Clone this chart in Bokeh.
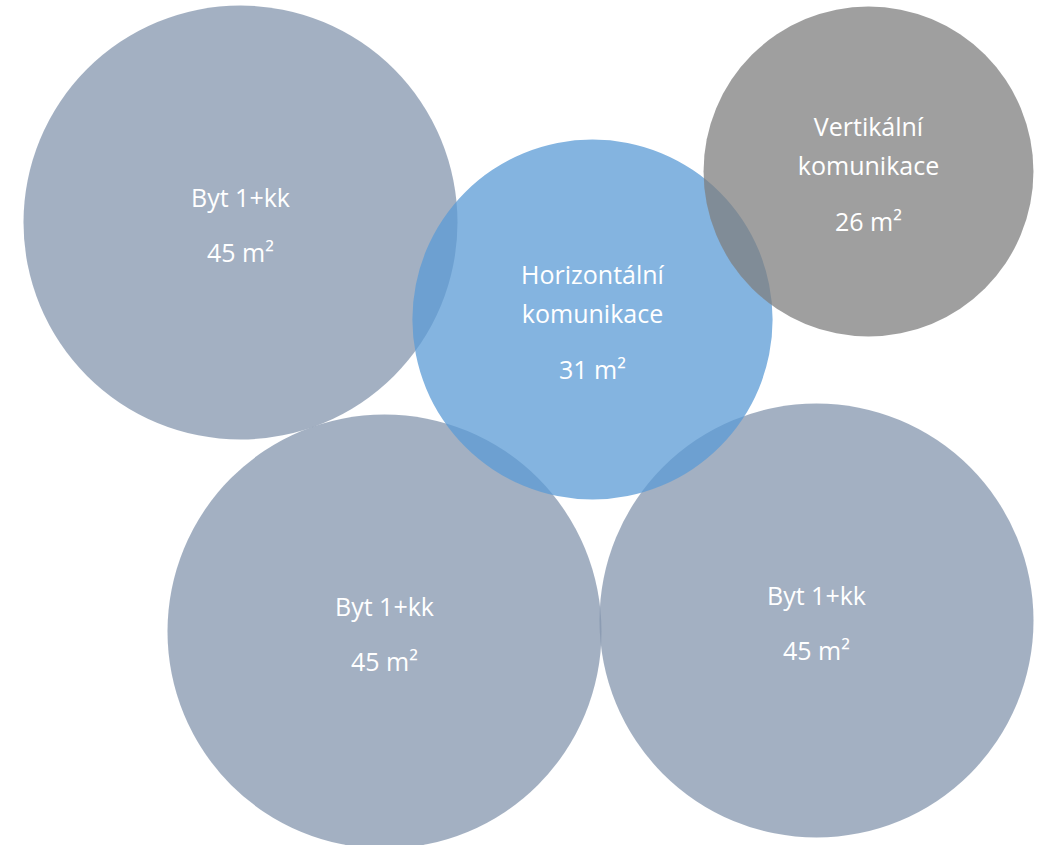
from bokeh.plotting import figure
from bokeh.models import Range1d, ColumnDataSource
from bokeh.core.properties import value
from bokeh.embed import file_html
from bokeh.resources import INLINE
import numpy as np

# --- data ---
names = ["Byt 1+kk", "Byt 1+kk", "Byt 1+kk", "Horizontální\nkomunikace", "Vertikální\nkomunikace"]
areas = [45, 45, 45, 31, 26]
x_pos = [240, 384, 816, 592, 868]
y_pos = [222, 631, 620, 319, 171]
colors = ["#8495ad", "#8495ad", "#8495ad", "#5b9bd5", "#7f7f7f"]

W, H = 1045, 845
p = figure(width=W, height=H, output_backend="svg", toolbar_location=None,
           x_range=Range1d(0, W), y_range=Range1d(H, 0),
           min_border=0, border_fill_color="white", background_fill_color="white")
p.axis.visible = False
p.grid.visible = False
p.outline_line_color = None

k = 217 / np.sqrt(45)
radii = [k * np.sqrt(a) for a in areas]

order = np.argsort([-a for a in areas], kind="stable")
src = ColumnDataSource(dict(
    x=[x_pos[i] for i in order], y=[y_pos[i] for i in order],
    r=[radii[i] for i in order], c=[colors[i] for i in order]))
p.circle(x="x", y="y", radius="r", radius_dimension="x", source=src,
         fill_color="c", fill_alpha=0.75, line_color=None)

tx, ty, tt = [], [], []
for n, a, cx, cy in zip(names, areas, x_pos, y_pos):
    lines = n.split("\n")
    span = (len(lines) - 1) * 39 + 55.5
    y0 = cy + 2 - span / 2
    for j, ln in enumerate(lines):
        tx.append(cx); ty.append(y0 + j * 39); tt.append(ln)
    tx.append(cx); ty.append(y0 + (len(lines) - 1) * 39 + 55.5); tt.append(f"{a} m²")

p.text(x=tx, y=ty, text=tt, text_color="white", text_align="center",
       text_baseline="alphabetic", text_font=value("Open Sans"),
       text_font_size="25px")

open("out.html", "w").write(file_html(p, INLINE))
